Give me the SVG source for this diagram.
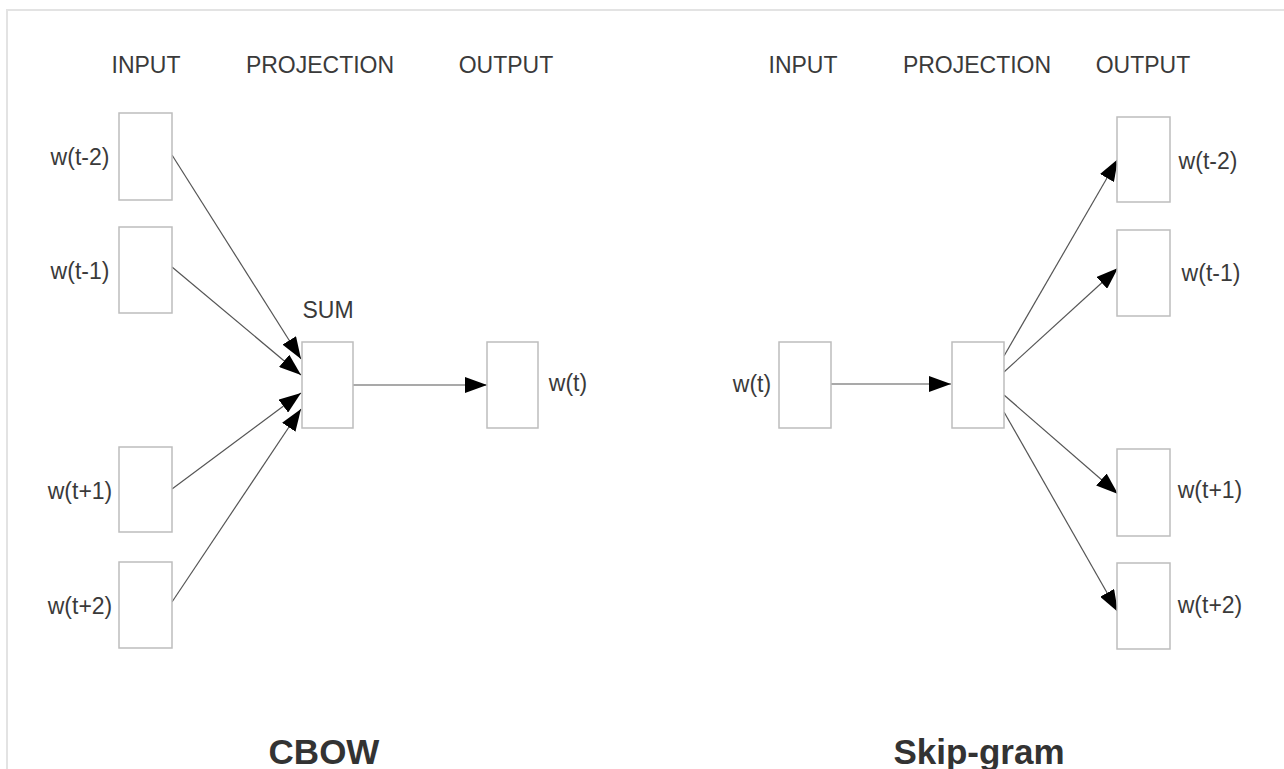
<svg xmlns="http://www.w3.org/2000/svg" width="1284" height="769" viewBox="0 0 1284 769">
<style>
.hdr{font-family:"Liberation Sans",Arial,sans-serif;font-size:23px;fill:#3a3a3a}
.lbl{font-family:"Liberation Sans",Arial,sans-serif;font-size:23px;fill:#3a3a3a}
.ttl{font-family:"Liberation Sans",Arial,sans-serif;font-size:35px;font-weight:bold;fill:#333}
.box{fill:#fff;stroke:#bdbdbd;stroke-width:1.5}
.edge{stroke:#555;stroke-width:1.2;fill:none;marker-end:url(#ah)}
</style>
<defs>
<marker id="ah" markerUnits="userSpaceOnUse" markerWidth="23" markerHeight="16" refX="22" refY="8" orient="auto">
<path d="M0,0 L22,8 L0,16 z" fill="#000"/>
</marker>
</defs>
<rect x="0" y="0" width="1284" height="769" fill="#fff"/>
<path d="M7,769 L7,10 L1284,10" fill="none" stroke="#e3e3e3" stroke-width="2"/>

<g id="headers">
<text class="hdr" x="146" y="73" text-anchor="middle">INPUT</text>
<text class="hdr" x="320" y="73" text-anchor="middle">PROJECTION</text>
<text class="hdr" x="506" y="73" text-anchor="middle">OUTPUT</text>
<text class="hdr" x="803" y="73" text-anchor="middle">INPUT</text>
<text class="hdr" x="977" y="73" text-anchor="middle">PROJECTION</text>
<text class="hdr" x="1143" y="73" text-anchor="middle">OUTPUT</text>
</g>

<g id="connectors">
<line class="edge" x1="172" y1="155" x2="301" y2="359"/>
<line class="edge" x1="172" y1="267" x2="301" y2="375"/>
<line class="edge" x1="172" y1="489" x2="301" y2="393"/>
<line class="edge" x1="172" y1="602" x2="301" y2="409"/>
<line class="edge" x1="353" y1="385" x2="487" y2="385"/>
<line class="edge" x1="831" y1="384" x2="951" y2="384"/>
<line class="edge" x1="1004" y1="356" x2="1118" y2="159"/>
<line class="edge" x1="1004" y1="372" x2="1118" y2="268"/>
<line class="edge" x1="1004" y1="395" x2="1118" y2="494"/>
<line class="edge" x1="1004" y1="412" x2="1118" y2="612"/>
</g>

<g id="cbow-in-t-2"><rect class="box" x="119" y="113" width="53" height="87"/><text class="lbl" x="80" y="165" text-anchor="middle">w(t-2)</text></g>
<g id="cbow-in-t-1"><rect class="box" x="119" y="227" width="53" height="86"/><text class="lbl" x="80" y="279" text-anchor="middle">w(t-1)</text></g>
<g id="cbow-in-t+1"><rect class="box" x="119" y="447" width="53" height="85"/><text class="lbl" x="80" y="499" text-anchor="middle">w(t+1)</text></g>
<g id="cbow-in-t+2"><rect class="box" x="119" y="562" width="53" height="86"/><text class="lbl" x="80" y="614" text-anchor="middle">w(t+2)</text></g>
<g id="cbow-sum"><rect class="box" x="302" y="342" width="51" height="86"/><text class="lbl" x="328" y="318" text-anchor="middle">SUM</text></g>
<g id="cbow-out"><rect class="box" x="487" y="342" width="51" height="86"/><text class="lbl" x="568" y="391" text-anchor="middle">w(t)</text></g>

<g id="sg-in"><rect class="box" x="779" y="342" width="52" height="86"/><text class="lbl" x="752" y="392" text-anchor="middle">w(t)</text></g>
<g id="sg-proj"><rect class="box" x="952" y="342" width="52" height="86"/></g>
<g id="sg-out-t-2"><rect class="box" x="1117" y="117" width="53" height="85"/><text class="lbl" x="1208" y="169" text-anchor="middle">w(t-2)</text></g>
<g id="sg-out-t-1"><rect class="box" x="1117" y="230" width="53" height="86"/><text class="lbl" x="1211" y="281" text-anchor="middle">w(t-1)</text></g>
<g id="sg-out-t+1"><rect class="box" x="1117" y="449" width="53" height="87"/><text class="lbl" x="1210" y="498" text-anchor="middle">w(t+1)</text></g>
<g id="sg-out-t+2"><rect class="box" x="1117" y="563" width="53" height="86"/><text class="lbl" x="1210" y="613" text-anchor="middle">w(t+2)</text></g>

<g id="titles">
<text class="ttl" x="324" y="764" text-anchor="middle">CBOW</text>
<text class="ttl" x="979" y="764" text-anchor="middle">Skip-gram</text>
</g>
</svg>
